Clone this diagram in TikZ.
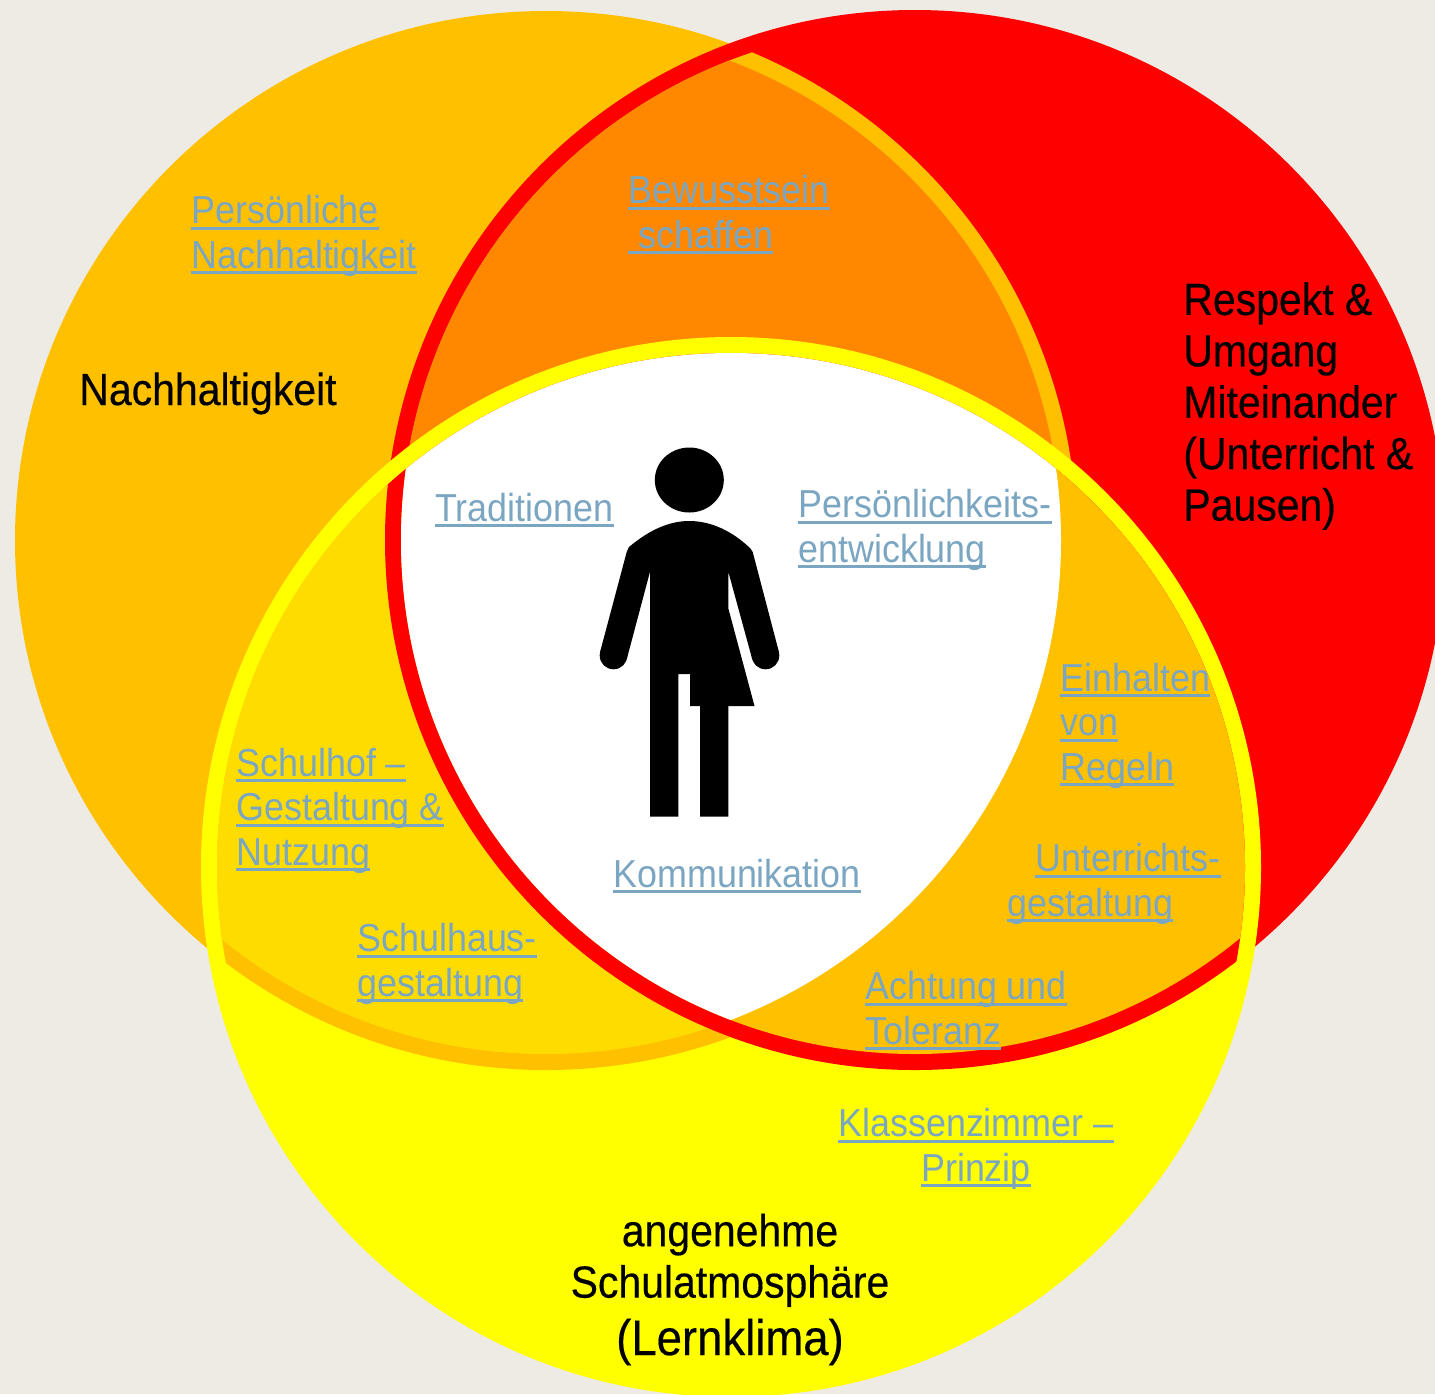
\documentclass[tikz,border=0pt]{standalone}
\usepackage{fontspec}
\setmainfont[FakeStretch=0.92]{Liberation Sans}
\newfontfamily\heavyfont[FakeStretch=0.91,FakeBold=0.35]{Liberation Sans}
\definecolor{paper}{HTML}{EEEBE4}
\definecolor{amber}{HTML}{FFC000}
\definecolor{fullred}{HTML}{FF0000}
\definecolor{fullyellow}{HTML}{FFFF00}
\definecolor{lensorange}{HTML}{FF8800}
\definecolor{lensyellow}{HTML}{FFDC00}
\definecolor{linkblue}{HTML}{7BA6C2}
\newcommand{\rOut}{530}
\newcommand{\rIn}{514}
\newcommand{\lnk}[1]{\sbox0{#1}\rlap{\rule[-3.1pt]{\wd0}{1.5pt}}\usebox0}
\tikzset{
  linklabel/.style={font=\fontsize{19.5}{22.2}\selectfont,text=linkblue,inner sep=0pt,align=left,anchor=base west},
  mainlabel/.style={font=\heavyfont\fontsize{22.5}{25.7}\selectfont,text=black,inner sep=0pt,align=left,anchor=base west},
  leftouter/.style={x radius=531,y radius=529.5},
  leftinner/.style={x radius=515,y radius=513.5}
}
\begin{document}
\begin{tikzpicture}[x=0.5pt,y=-0.5pt]
\useasboundingbox (0,0) rectangle (1435,1394);
\clip (0,0) rectangle (1435,1394);
\fill[paper] (0,0) rectangle (1435,1394);
%Centers of the three circles
\coordinate (cLeft) at (546,540.5);
\coordinate (cRight) at (915,540);
\coordinate (cBottom) at (731,867);
%Outer discs
\fill[amber] (cLeft) ellipse [leftouter];
\fill[fullred] (cRight) circle [radius=\rOut];
%Overlap of left and right
\begin{scope}
\clip (cRight) circle [radius=\rIn];
\fill[amber] (cLeft) ellipse [leftouter];
\fill[lensorange] (cLeft) ellipse [leftinner];
\end{scope}
\fill[fullyellow] (cBottom) circle [radius=\rOut];
%Everything inside the yellow ring
\begin{scope}
\clip (cBottom) circle [radius=\rIn];
\fill[amber] (cLeft) ellipse [leftouter];
\fill[lensyellow] (cLeft) ellipse [leftinner];
\fill[fullred] (cRight) circle [radius=\rOut];
\begin{scope}
\clip (cRight) circle [radius=\rIn];
\fill[amber] (0,0) rectangle (1435,1394);
\fill[white] (cLeft) ellipse [leftinner];
\end{scope}
\end{scope}
%The person
\coordinate (handL) at (613.5,655.5);
\coordinate (handR) at (765.5,655.5);
\fill (689.3,480) ellipse [x radius=34.5,y radius=32.5];
\fill (handL) circle [radius=13.8];
\fill (handR) circle [radius=13.8];
\fill (629,547) .. controls (648,531) and (668,521) .. (689.3,521)
  .. controls (711,521) and (732,531) .. (750,548) -- (752.7,552) -- (778.8,651.5)
  -- (752.2,659) -- (728.3,571.7) -- (728.3,608.3) -- (754.5,706) -- (728.3,706)
  -- (728.3,816.7) -- (700,816.7) -- (700,706) -- (690,706) -- (690,674) -- (678.3,674)
  -- (678.3,816.7) -- (650,816.7) -- (650,571.7) -- (626.8,659) -- (600.2,651.5)
  -- (626.7,552) -- cycle;
%Main labels
\node[mainlabel] (sustain) at (79,405) {Nachhaltigkeit};
\node[mainlabel] (respect) at (1183,520.5) {Respekt \&\\Umgang\\Miteinander\\(Unterricht \&\\Pausen)};
\node[mainlabel,align=center,anchor=base] (climate) at (730,1355) {angenehme\\Schulatmosphäre\\[3pt]{\fontsize{25}{28}\selectfont(Lernklima)}};
%Link labels
\node[linklabel] (personal) at (191,268) {\lnk{Persönliche}\\\lnk{Nachhaltigkeit}};
\node[linklabel] (aware) at (628,248) {\lnk{Bewusstsein}\\\lnk{\ schaffen}};
\node[linklabel] (tradition) at (435,521) {\lnk{Traditionen}};
\node[linklabel] (growth) at (798,562) {\lnk{Persönlichkeits-}\\\lnk{entwicklung}};
\node[linklabel] (rules) at (1060,780) {\lnk{Einhalten}\\\lnk{von}\\\lnk{Regeln}};
\node[linklabel] (teaching) at (1007,916) {\hspace*{14pt}\lnk{Unterrichts-}\\\lnk{gestaltung}};
\node[linklabel] (yard) at (236,865) {\lnk{Schulhof –}\\\lnk{Gestaltung \&}\\\lnk{Nutzung}};
\node[linklabel] (house) at (357,996) {\lnk{Schulhaus-}\\\lnk{gestaltung}};
\node[linklabel] (talk) at (613,887) {\lnk{Kommunikation}};
\node[linklabel] (tolerance) at (865,1044) {\lnk{Achtung und}\\\lnk{Toleranz}};
\node[linklabel,align=center,anchor=base] (classroom) at (976,1181) {\lnk{Klassenzimmer –}\\\lnk{Prinzip}};
\end{tikzpicture}
\end{document}
